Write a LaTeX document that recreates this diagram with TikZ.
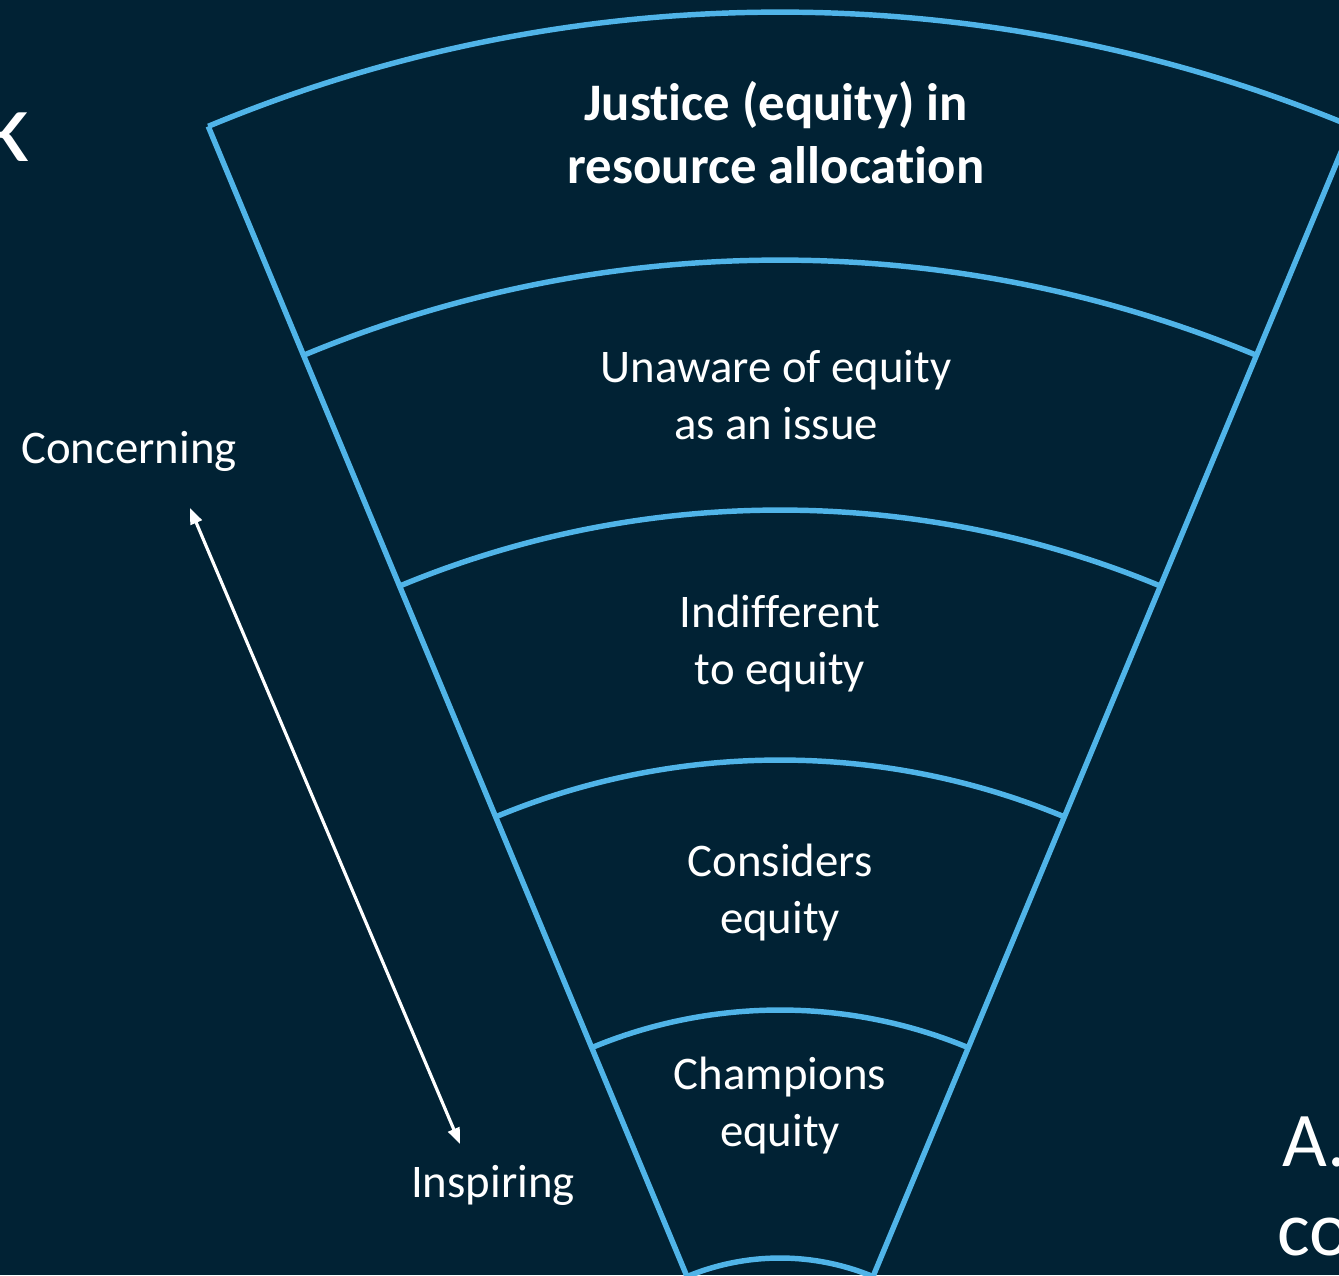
\documentclass[tikz,border=0pt]{standalone}
\usepackage{fontspec}
\setmainfont{Carlito}[Ligatures=NoCommon]
\usepackage{tikz}
\usetikzlibrary{positioning, arrows.meta}
\tikzstyle{slide} = [x = .01cm, y = .01cm]
\definecolor{slideColor}{RGB}{1,34,52}
\definecolor{funnelColor}{RGB}{80,180,232}
\tikzstyle{funnelLine} = [color=funnelColor, line width=1.55pt]
\tikzstyle{levelText} = [text=white, align=center, font=\fontsize{13.3}{16.2}\selectfont]
\tikzstyle{titleText} = [text=white, align=center, font=\fontsize{15}{17.9}\selectfont\bfseries]
\tikzstyle{sideText} = [text=white, font=\fontsize{13.3}{16.2}\selectfont]
\tikzstyle{cutText} = [text=white, inner sep=0pt, font=\fontsize{22}{26}\selectfont]
\tikzstyle{scaleArrow} = [white, line width=.9pt, {Triangle[length=.16cm, width=.12cm]}-{Triangle[length=.16cm, width=.12cm]}]
\newcommand{\apexX}{780}
\newcommand{\apexY}{-225}
\newcommand{\halfAngle}{22.6}
\newcommand{\funnelArc}[1]{\draw [funnelLine] (\apexX,\apexY) ++(90 + \halfAngle:#1) arc (90 + \halfAngle:90 - \halfAngle:#1);}
\newcommand{\funnelSide}[1]{\draw [funnelLine] (\apexX,\apexY) ++(#1:242) -- ++(#1:1246);}

\begin{document}
\begin{tikzpicture}[slide]
    \useasboundingbox (0,0) rectangle (1339,1275);
    \clip (0,0) rectangle (1339,1275);
    \fill [slideColor] (0,0) rectangle (1339,1275);
    % funnel
    \foreach \radius in {1488,1240,990,740,490,242} {
      \funnelArc{\radius}
    }
    \funnelSide{90 + \halfAngle}
    \funnelSide{90 - \halfAngle}
    % levels
    \node [titleText] (justiceLevel) at (776,1142) {Justice (equity) in\\resource allocation};
    \node [levelText] (unawareLevel) at (776,880) {Unaware of equity\\as an issue};
    \node [levelText] (indifferentLevel) at (780,631) {Indifferent\\to equity};
    \node [levelText] (considersLevel) at (780,382) {Considers\\equity};
    \node [levelText] (championsLevel) at (780,169) {Champions\\equity};
    % scale
    \node [sideText] (concerningLabel) at (129,824) {Concerning};
    \node [sideText] (inspiringLabel) at (493,90) {Inspiring};
    \coordinate (arrowTop) at (190,767);
    \coordinate (arrowBottom) at (460,131);
    \draw [scaleArrow] (arrowTop) -- (arrowBottom);
    % cut off slide text
    \node [cutText, font=\fontsize{29}{34}\selectfont, anchor=base east] (cutK) at (31,1113) {k};
    \node [cutText, anchor=base west] (cutA) at (1282,109) {A.};
    \node [cutText, anchor=base west] (cutCo) at (1277,20) {co};
\end{tikzpicture}
\end{document}
